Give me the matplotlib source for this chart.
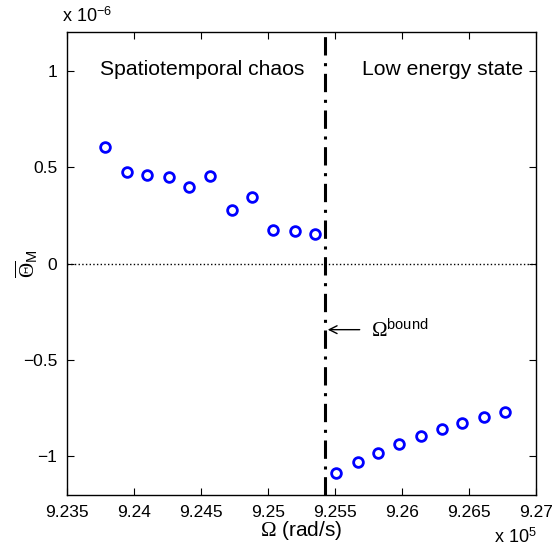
import matplotlib
matplotlib.use("Agg")
import matplotlib.pyplot as plt

plt.rcParams['font.family'] = ['Liberation Sans', 'DejaVu Sans']
plt.rcParams['mathtext.fontset'] = 'custom'
plt.rcParams['mathtext.rm'] = 'Liberation Serif'
plt.rcParams['mathtext.it'] = 'Liberation Serif:italic'
plt.rcParams['mathtext.sf'] = 'Liberation Sans'

# Omega in units of 1e5 rad/s, Theta_M in units of 1e-6
omega_chaos = [9.2378, 9.2395, 9.2410, 9.2426, 9.2441, 9.2457, 9.2473, 9.2488, 9.2504, 9.2520, 9.2535]
theta_chaos = [0.605, 0.472, 0.461, 0.450, 0.399, 0.456, 0.279, 0.343, 0.174, 0.169, 0.153]
omega_low = [9.2551, 9.2567, 9.2582, 9.2598, 9.2614, 9.2630, 9.2645, 9.2661, 9.2677]
theta_low = [-1.084, -1.027, -0.980, -0.935, -0.894, -0.859, -0.828, -0.797, -0.772]
omega_bound = 9.25425
xticks = [9.235, 9.24, 9.245, 9.25, 9.255, 9.26, 9.265, 9.27]
yticks = [-1, -0.5, 0, 0.5, 1]

fig = plt.figure(figsize=(5.54, 5.47), dpi=100)
ax = fig.add_axes([67/554, 52/547, 469/554, 463/547])

ax.axhline(0, color='k', linestyle=':', linewidth=1)
ax.axvline(omega_bound, color='k', linestyle=(0, (6, 2.5, 1, 2.5)), linewidth=2.2)

ax.plot(omega_chaos, theta_chaos, 'o', mfc='none', mec='b', ms=7, mew=2)
ax.plot(omega_low, theta_low, 'o', mfc='none', mec='b', ms=7, mew=2)

ax.set_xlim(9.235, 9.27)
ax.set_ylim(-1.2, 1.2)
ax.set_xticks(xticks)
ax.set_xticklabels(['%g' % t for t in xticks])
ax.set_yticks(yticks)
ax.set_yticklabels([('%g' % t).replace('-', '\u2212') for t in yticks])
ax.tick_params(direction='in', top=True, right=True, length=5, labelsize=12.5, pad=7)
for s in ax.spines.values():
    s.set_linewidth(1)

ax.text(0.289, 0.918, 'Spatiotemporal chaos', transform=ax.transAxes, ha='center', va='center', fontsize=15.2)
ax.text(0.80, 0.918, 'Low energy state', transform=ax.transAxes, ha='center', va='center', fontsize=15.2)

ax.annotate('', xy=(omega_bound, -0.343), xytext=(omega_bound + 0.0028, -0.343),
            arrowprops=dict(arrowstyle='->', color='k', lw=1, mutation_scale=14))
ax.text(omega_bound + 0.00345, -0.343, r'$\Omega^{\mathsf{bound}}$', ha='left', va='center', fontsize=15)

ax.set_xlabel(r'$\Omega$ (rad/s)', fontsize=15)
ax.xaxis.set_label_coords(0.5, -0.052)
ax.set_ylabel(r'$\overline{\Theta}_\mathsf{M}$', fontsize=15)
ax.yaxis.set_label_coords(-0.057, 0.5)

fig.text(62/554, 1 - 16/547, 'x 10$^{\\mathsf{\u2212}\\mathsf{6}}$', ha='left', va='center', fontsize=13)
fig.text(494/554, 1 - 543/547, r'x 10$^{\mathsf{5}}$', ha='left', va='baseline', fontsize=13)

fig.savefig('out.png', dpi=100)
